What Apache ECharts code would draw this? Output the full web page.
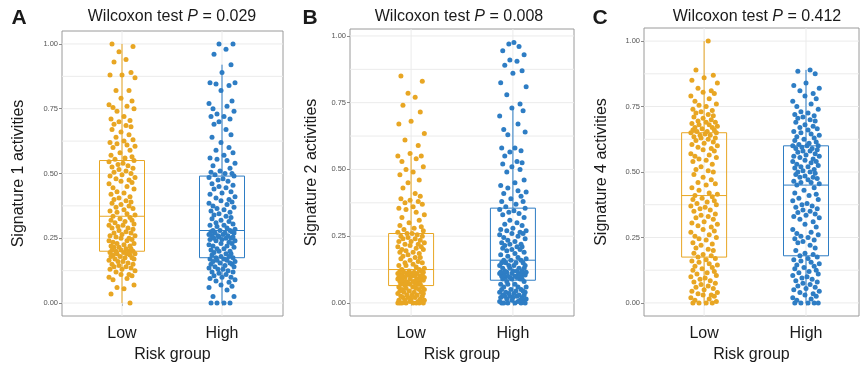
<!DOCTYPE html>
<html>
<head>
<meta charset="utf-8">
<script src="https://cdn.jsdelivr.net/npm/echarts@6/dist/echarts.min.js"></script>
<style>
  html, body { margin: 0; padding: 0; background: #fff; }
  #chart { width: 861px; height: 368px; }
</style>
</head>
<body>
<div id="chart"></div>
<script>
// ---- data ----
const groups = ['Low', 'High'];
const yTicks = [0, 0.25, 0.5, 0.75, 1];
const yGrid = [0, 0.125, 0.25, 0.375, 0.5, 0.625, 0.75, 0.875, 1];
const panelLetters = ['A', 'B', 'C'];
const pValues = ['0.029', '0.008', '0.412'];
const yNames = ['Signature 1 activities', 'Signature 2 activities', 'Signature 4 activities'];

// box stats: [lower whisker, Q1, median, Q3, upper whisker]
const sig1LowBox = [0, 0.20, 0.335, 0.55, 1.0];
const sig1HighBox = [0, 0.175, 0.28, 0.49, 0.92];
const sig2LowBox = [0, 0.065, 0.125, 0.26, 0.55];
const sig2HighBox = [0, 0.085, 0.16, 0.355, 0.73];
const sig4LowBox = [0, 0.175, 0.41, 0.65, 1.0];
const sig4HighBox = [0, 0.18, 0.45, 0.60, 0.89];

// horizontal jitter of the points (in group units)
const jitter = [0.08, -0.11, 0.02, -0.05, 0.12, -0.09, 0.05, -0.13, 0.10, -0.01, 0.07, -0.06, 0.13, -0.12, 0.00, 0.09,
  -0.08, 0.04, -0.03, 0.11, -0.10, 0.06, -0.04, 0.01, -0.13, 0.12, -0.07, 0.03, 0.10, -0.11, -0.02, 0.08, -0.09, 0.13,
  0.05, -0.05, -0.12, 0.02, 0.11, -0.06, 0.07, -0.01, -0.10, 0.09, 0.04, -0.08, -0.03];

const sig1Low = [0, 0.035, 0.055, 0.06, 0.07, 0.09, 0.095, 0.1, 0.105, 0.11, 0.11, 0.12, 0.125, 0.13, 0.13, 0.135, 0.14, 0.14, 0.145, 0.15,
  0.15, 0.155, 0.16, 0.16, 0.165, 0.17, 0.17, 0.175, 0.175, 0.18, 0.18, 0.185, 0.185, 0.19, 0.19, 0.19, 0.195, 0.195, 0.2, 0.2,
  0.2, 0.205, 0.205, 0.21, 0.21, 0.215, 0.215, 0.22, 0.22, 0.225, 0.23, 0.23, 0.235, 0.24, 0.24, 0.245, 0.25, 0.25, 0.255, 0.26,
  0.26, 0.265, 0.27, 0.27, 0.275, 0.28, 0.285, 0.29, 0.29, 0.295, 0.3, 0.3, 0.305, 0.31, 0.315, 0.32, 0.32, 0.325, 0.33, 0.335,
  0.34, 0.345, 0.35, 0.355, 0.36, 0.365, 0.37, 0.375, 0.38, 0.385, 0.39, 0.395, 0.4, 0.405, 0.41, 0.42, 0.425, 0.43, 0.44, 0.445,
  0.45, 0.46, 0.465, 0.47, 0.475, 0.48, 0.485, 0.49, 0.495, 0.5, 0.505, 0.51, 0.515, 0.52, 0.525, 0.53, 0.535, 0.54, 0.545, 0.55,
  0.555, 0.56, 0.565, 0.57, 0.58, 0.59, 0.6, 0.605, 0.61, 0.615, 0.62, 0.625, 0.63, 0.64, 0.65, 0.66, 0.67, 0.68, 0.685, 0.69,
  0.7, 0.705, 0.71, 0.72, 0.74, 0.75, 0.755, 0.76, 0.765, 0.78, 0.79, 0.82, 0.82, 0.87, 0.88, 0.88, 0.89, 0.93, 0.94, 0.97, 0.99, 1.0];
const sig1High = [0, 0, 0, 0, 0.025, 0.025, 0.05, 0.06, 0.065, 0.07, 0.08, 0.085, 0.09, 0.095, 0.1, 0.1, 0.105, 0.11, 0.115, 0.12,
  0.12, 0.125, 0.13, 0.13, 0.135, 0.14, 0.14, 0.145, 0.15, 0.15, 0.155, 0.155, 0.16, 0.16, 0.165, 0.165, 0.17, 0.17, 0.175, 0.175,
  0.18, 0.18, 0.185, 0.19, 0.19, 0.195, 0.2, 0.2, 0.205, 0.21, 0.21, 0.215, 0.22, 0.22, 0.225, 0.23, 0.23, 0.235, 0.24, 0.24,
  0.245, 0.245, 0.25, 0.25, 0.25, 0.255, 0.255, 0.26, 0.26, 0.26, 0.265, 0.265, 0.27, 0.27, 0.27, 0.275, 0.275, 0.28, 0.28, 0.28,
  0.285, 0.29, 0.295, 0.3, 0.3, 0.305, 0.31, 0.315, 0.32, 0.325, 0.33, 0.335, 0.34, 0.345, 0.35, 0.355, 0.36, 0.365, 0.37, 0.375,
  0.38, 0.385, 0.39, 0.395, 0.4, 0.405, 0.41, 0.42, 0.425, 0.43, 0.44, 0.445, 0.45, 0.455, 0.46, 0.47, 0.475, 0.48, 0.485, 0.49,
  0.495, 0.5, 0.5, 0.505, 0.51, 0.52, 0.53, 0.54, 0.55, 0.555, 0.56, 0.57, 0.58, 0.59, 0.6, 0.62, 0.64, 0.65, 0.67, 0.69,
  0.7, 0.71, 0.72, 0.72, 0.73, 0.74, 0.75, 0.76, 0.77, 0.78, 0.82, 0.84, 0.845, 0.85, 0.85, 0.89, 0.92, 0.96, 0.98, 1.0, 1.0];

const sig2Low = [0, 0, 0, 0, 0, 0, 0, 0, 0.005, 0.005, 0.005, 0.01, 0.01, 0.01, 0.015, 0.015, 0.02, 0.02, 0.02, 0.025,
  0.025, 0.03, 0.03, 0.03, 0.035, 0.035, 0.04, 0.04, 0.04, 0.045, 0.045, 0.05, 0.05, 0.05, 0.055, 0.055, 0.06, 0.06, 0.06, 0.065,
  0.07, 0.07, 0.07, 0.07, 0.075, 0.075, 0.075, 0.08, 0.08, 0.08, 0.08, 0.085, 0.085, 0.085, 0.09, 0.09, 0.09, 0.09, 0.095, 0.095,
  0.095, 0.1, 0.1, 0.1, 0.1, 0.105, 0.105, 0.105, 0.11, 0.11, 0.11, 0.11, 0.115, 0.115, 0.115, 0.12, 0.12, 0.12, 0.125, 0.125,
  0.13, 0.135, 0.14, 0.14, 0.145, 0.15, 0.15, 0.155, 0.16, 0.165, 0.17, 0.17, 0.175, 0.18, 0.185, 0.19, 0.19, 0.195, 0.2, 0.2,
  0.205, 0.21, 0.21, 0.215, 0.22, 0.22, 0.225, 0.23, 0.23, 0.235, 0.24, 0.24, 0.245, 0.25, 0.25, 0.255, 0.26, 0.26, 0.265, 0.27,
  0.275, 0.28, 0.285, 0.29, 0.3, 0.31, 0.32, 0.33, 0.34, 0.35, 0.355, 0.36, 0.37, 0.375, 0.38, 0.385, 0.39, 0.4, 0.41, 0.43,
  0.45, 0.46, 0.48, 0.49, 0.5, 0.51, 0.53, 0.54, 0.55, 0.55, 0.56, 0.59, 0.61, 0.635, 0.67, 0.68, 0.715, 0.74, 0.77, 0.785, 0.83, 0.85];
const sig2High = [0, 0, 0, 0, 0, 0, 0.005, 0.005, 0.01, 0.01, 0.01, 0.015, 0.015, 0.02, 0.02, 0.02, 0.025, 0.025, 0.025, 0.03,
  0.03, 0.03, 0.035, 0.035, 0.04, 0.04, 0.04, 0.045, 0.045, 0.05, 0.05, 0.05, 0.06, 0.06, 0.06, 0.07, 0.07, 0.07, 0.08, 0.08,
  0.09, 0.09, 0.09, 0.09, 0.095, 0.095, 0.095, 0.1, 0.1, 0.1, 0.1, 0.105, 0.105, 0.105, 0.11, 0.11, 0.11, 0.11, 0.115, 0.115,
  0.115, 0.12, 0.12, 0.12, 0.12, 0.13, 0.13, 0.13, 0.13, 0.14, 0.14, 0.14, 0.14, 0.15, 0.15, 0.15, 0.15, 0.16, 0.16, 0.16,
  0.165, 0.17, 0.175, 0.18, 0.185, 0.19, 0.195, 0.2, 0.2, 0.205, 0.21, 0.21, 0.215, 0.22, 0.22, 0.225, 0.23, 0.235, 0.24, 0.245,
  0.25, 0.255, 0.26, 0.26, 0.265, 0.27, 0.27, 0.275, 0.28, 0.29, 0.295, 0.3, 0.31, 0.32, 0.33, 0.335, 0.34, 0.345, 0.35, 0.355,
  0.36, 0.37, 0.38, 0.38, 0.39, 0.4, 0.41, 0.415, 0.42, 0.43, 0.44, 0.45, 0.46, 0.49, 0.5, 0.51, 0.52, 0.525, 0.53, 0.55,
  0.565, 0.57, 0.58, 0.58, 0.63, 0.64, 0.65, 0.67, 0.7, 0.72, 0.73, 0.745, 0.78, 0.81, 0.825, 0.86, 0.87, 0.89, 0.905, 0.91,
  0.93, 0.945, 0.96, 0.97, 0.975];

const sig4Low = [0, 0, 0, 0, 0.005, 0.01, 0.015, 0.02, 0.025, 0.03, 0.03, 0.035, 0.04, 0.045, 0.05, 0.055, 0.06, 0.065, 0.07, 0.075,
  0.08, 0.085, 0.09, 0.095, 0.1, 0.105, 0.11, 0.115, 0.12, 0.125, 0.13, 0.135, 0.14, 0.145, 0.15, 0.155, 0.16, 0.165, 0.17, 0.175,
  0.18, 0.185, 0.19, 0.2, 0.205, 0.21, 0.22, 0.225, 0.23, 0.24, 0.245, 0.25, 0.255, 0.26, 0.27, 0.275, 0.28, 0.29, 0.295, 0.3,
  0.305, 0.31, 0.32, 0.325, 0.33, 0.335, 0.34, 0.35, 0.355, 0.36, 0.365, 0.37, 0.375, 0.38, 0.385, 0.39, 0.395, 0.4, 0.405, 0.41,
  0.415, 0.42, 0.43, 0.44, 0.45, 0.455, 0.46, 0.47, 0.48, 0.49, 0.5, 0.505, 0.51, 0.52, 0.53, 0.54, 0.545, 0.55, 0.555, 0.56,
  0.565, 0.57, 0.58, 0.585, 0.59, 0.595, 0.6, 0.605, 0.61, 0.615, 0.62, 0.625, 0.63, 0.63, 0.635, 0.64, 0.64, 0.645, 0.65, 0.65,
  0.655, 0.655, 0.66, 0.66, 0.665, 0.67, 0.67, 0.675, 0.68, 0.68, 0.685, 0.69, 0.69, 0.695, 0.7, 0.705, 0.71, 0.715, 0.72, 0.725,
  0.73, 0.735, 0.74, 0.75, 0.755, 0.76, 0.77, 0.78, 0.79, 0.8, 0.805, 0.81, 0.82, 0.84, 0.85, 0.86, 0.87, 0.89, 1.0];
const sig4High = [0, 0, 0, 0, 0, 0.01, 0.015, 0.02, 0.025, 0.03, 0.035, 0.04, 0.045, 0.05, 0.055, 0.06, 0.065, 0.07, 0.075, 0.08,
  0.085, 0.09, 0.095, 0.1, 0.105, 0.11, 0.115, 0.12, 0.125, 0.13, 0.135, 0.14, 0.145, 0.15, 0.155, 0.16, 0.165, 0.17, 0.175, 0.18,
  0.185, 0.19, 0.2, 0.21, 0.22, 0.23, 0.235, 0.24, 0.245, 0.25, 0.255, 0.26, 0.265, 0.27, 0.28, 0.29, 0.3, 0.31, 0.32, 0.325,
  0.33, 0.335, 0.34, 0.345, 0.35, 0.355, 0.36, 0.365, 0.37, 0.375, 0.38, 0.39, 0.395, 0.4, 0.41, 0.415, 0.42, 0.43, 0.44, 0.45,
  0.455, 0.46, 0.46, 0.465, 0.47, 0.475, 0.48, 0.48, 0.485, 0.49, 0.495, 0.5, 0.5, 0.505, 0.51, 0.515, 0.52, 0.52, 0.525, 0.53,
  0.535, 0.54, 0.54, 0.545, 0.55, 0.555, 0.56, 0.56, 0.565, 0.57, 0.575, 0.58, 0.58, 0.585, 0.59, 0.59, 0.595, 0.6, 0.6, 0.6,
  0.605, 0.61, 0.615, 0.62, 0.625, 0.63, 0.635, 0.64, 0.645, 0.65, 0.655, 0.66, 0.665, 0.67, 0.675, 0.68, 0.69, 0.695, 0.7, 0.705,
  0.71, 0.715, 0.72, 0.725, 0.73, 0.74, 0.75, 0.76, 0.77, 0.78, 0.79, 0.8, 0.81, 0.82, 0.83, 0.84, 0.875, 0.885, 0.89];

// ---- layout ----
const colors = ['#E8A623', '#2E7DC4'];
const FONT = 'Liberation Sans, Arial, Helvetica, sans-serif';
const panels = [
  { grid: { left: 62, top: 31, width: 221, height: 285 }, xRange: [0.4, 2.61], yRange: [-0.05, 1.05],
    center: 172, letterX: 19, nameGap: 35, low: sig1Low, high: sig1High, boxes: [sig1LowBox, sig1HighBox] },
  { grid: { left: 350, top: 29, width: 224, height: 287 }, xRange: [0.4, 2.6], yRange: [-0.049, 1.026],
    center: 459, letterX: 310, nameGap: 30, low: sig2Low, high: sig2High, boxes: [sig2LowBox, sig2HighBox] },
  { grid: { left: 644, top: 28, width: 215, height: 288 }, xRange: [0.41, 2.52], yRange: [-0.05, 1.05],
    center: 757, letterX: 600, nameGap: 34, low: sig4Low, high: sig4High, boxes: [sig4LowBox, sig4HighBox] }
];

function renderBox(params, api) {
  const x = api.value(0);
  const pMin = api.coord([x, api.value(1)]);
  const pQ1 = api.coord([x, api.value(2)]);
  const pMed = api.coord([x, api.value(3)]);
  const pQ3 = api.coord([x, api.value(4)]);
  const pMax = api.coord([x, api.value(5)]);
  const half = 22.5;
  const st = { stroke: api.visual('color'), lineWidth: 1, fill: null };
  return {
    type: 'group',
    children: [
      { type: 'line', shape: { x1: pMin[0], y1: pMin[1], x2: pQ1[0], y2: pQ1[1] }, style: st },
      { type: 'line', shape: { x1: pQ3[0], y1: pQ3[1], x2: pMax[0], y2: pMax[1] }, style: st },
      { type: 'rect', shape: { x: pQ3[0] - half, y: pQ3[1], width: half * 2, height: pQ1[1] - pQ3[1] }, style: st },
      { type: 'line', shape: { x1: pMed[0] - half, y1: pMed[1], x2: pMed[0] + half, y2: pMed[1] }, style: st }
    ]
  };
}

function renderHLine(params, api) {
  const cs = params.coordSys;
  const y = api.coord([1, api.value(0)])[1];
  return { type: 'line', shape: { x1: cs.x, y1: y, x2: cs.x + cs.width, y2: y }, style: { stroke: '#ebebeb', lineWidth: 1 } };
}

function renderVLine(params, api) {
  const cs = params.coordSys;
  const x = api.coord([api.value(0), 0.5])[0];
  return { type: 'line', shape: { x1: x, y1: cs.y, x2: x, y2: cs.y + cs.height }, style: { stroke: '#ebebeb', lineWidth: 1 } };
}

const chart = echarts.init(document.getElementById('chart'));
const grid = [], xAxis = [], yAxis = [], series = [], graphic = [];

panels.forEach((p, i) => {
  grid.push(Object.assign({ show: true, borderColor: '#9a9a9a', borderWidth: 1, backgroundColor: '#fff' }, p.grid));
  xAxis.push({
    type: 'value', gridIndex: i, min: p.xRange[0], max: p.xRange[1],
    axisLine: { show: false },
    axisTick: { show: true, customValues: [1, 2], length: 3, lineStyle: { color: '#8a8a8a' } },
    axisLabel: { customValues: [1, 2], formatter: v => groups[Math.round(v) - 1], fontSize: 16, color: '#1a1a1a', margin: 10, fontFamily: FONT },
    splitLine: { show: false },
    name: 'Risk group', nameLocation: 'middle', nameGap: 31,
    nameTextStyle: { fontSize: 16, color: '#1a1a1a', fontFamily: FONT }
  });
  yAxis.push({
    type: 'value', gridIndex: i, min: p.yRange[0], max: p.yRange[1],
    axisLine: { show: false },
    axisTick: { show: true, customValues: yTicks, length: 3, lineStyle: { color: '#8a8a8a' } },
    axisLabel: { customValues: yTicks, formatter: v => v.toFixed(2), fontSize: 7.5, color: '#555', margin: 4, fontFamily: FONT },
    splitLine: { show: false },
    name: yNames[i], nameLocation: 'middle', nameGap: p.nameGap,
    nameTextStyle: { fontSize: 16, color: '#1a1a1a', fontFamily: FONT }
  });
  series.push({
    type: 'custom', xAxisIndex: i, yAxisIndex: i, z: 1, silent: true,
    renderItem: renderHLine, data: yGrid.map(v => [v])
  });
  series.push({
    type: 'custom', xAxisIndex: i, yAxisIndex: i, z: 1, silent: true,
    renderItem: renderVLine, data: groups.map((g, k) => [k + 1])
  });
  [p.low, p.high].forEach((vals, k) => {
    series.push({
      type: 'scatter', xAxisIndex: i, yAxisIndex: i, z: 2, silent: true,
      symbolSize: 5, itemStyle: { color: colors[k], opacity: 1 },
      data: vals.map((v, j) => [k + 1 + jitter[j % jitter.length], v])
    });
  });
  series.push({
    type: 'custom', xAxisIndex: i, yAxisIndex: i, z: 3, silent: true,
    renderItem: renderBox,
    data: p.boxes.map((b, k) => ({ value: [k + 1].concat(b), itemStyle: { color: colors[k] } }))
  });
  graphic.push({
    type: 'text', x: p.center, y: 17,
    style: {
      text: '{n|Wilcoxon test }{i|P}{n| = ' + pValues[i] + '}',
      align: 'center', verticalAlign: 'middle',
      rich: {
        n: { fontSize: 16, fontFamily: FONT, fill: '#1a1a1a' },
        i: { fontSize: 16, fontFamily: FONT, fontStyle: 'italic', fill: '#1a1a1a' }
      }
    }
  });
  graphic.push({
    type: 'text', x: p.letterX, y: 18,
    style: { text: panelLetters[i], align: 'center', verticalAlign: 'middle', fontSize: 21, fontWeight: 'bold', fontFamily: FONT, fill: '#1a1a1a' }
  });
});

chart.setOption({
  backgroundColor: '#fff',
  animation: false,
  grid, xAxis, yAxis, series, graphic
});
</script>
</body>
</html>
